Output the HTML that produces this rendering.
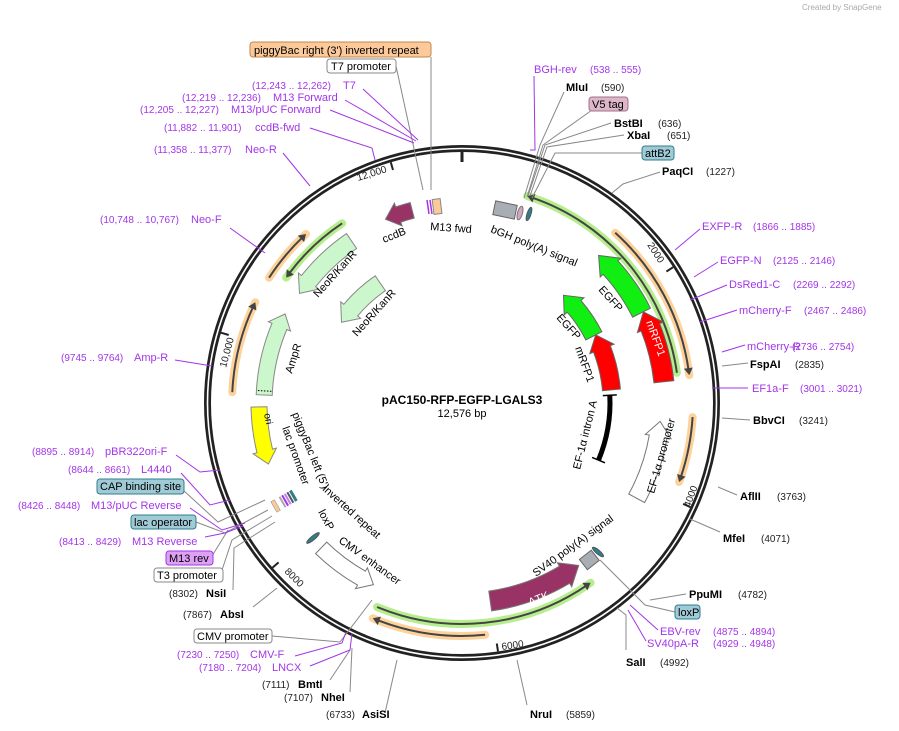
<!DOCTYPE html>
<html><head><meta charset="utf-8"><style>
html,body{margin:0;padding:0;background:#fff;}
svg{display:block;font-family:"Liberation Sans","DejaVu Sans",sans-serif;}
.l{font-size:11px;fill:#000}
.b{font-size:11px;font-weight:bold;fill:#000}
.n{font-size:10px;fill:#222}
.p{font-size:11px;fill:#a335e8}
.pn{font-size:10px;fill:#a335e8}
.g{stroke:#888;stroke-width:1;fill:none}
.pl{stroke:#a335e8;stroke-width:1;fill:none}
</style></head><body>
<svg id="s" width="899" height="731" viewBox="0 0 899 731" xmlns="http://www.w3.org/2000/svg">
<text x="802" y="10" style="font-size:8px;fill:#aaa">Created by SnapGene</text>
<g id="feat"></g>
<circle cx="462" cy="403" r="254.5" fill="none" stroke="#222" stroke-width="7"/>
<circle cx="462" cy="403" r="254.5" fill="none" stroke="#fff" stroke-width="1.6"/>
<line x1="462" y1="150" x2="462" y2="162" stroke="#222" stroke-width="3"/>
<g id="ticks"></g>
<g class="g">
<polyline points="431,57 431,190"/><polyline points="396,66 423,190"/>
<polyline points="233,590 234,548 275,522"/><polyline points="253,607 277,588"/>
<polyline points="183,490 218,522 265,500"/><polyline points="196,522 225,533 268,510"/>
<polyline points="212,556 228,530"/><polyline points="222,570 232,540 272,516"/>
<polyline points="272,636 340,642 372,600"/><polyline points="330,680 350,650"/>
<polyline points="350,692 352,648"/><polyline points="385,713 397,660"/>
<polyline points="527,705 517,660"/><polyline points="626,650 626,615 617,608"/>
<polyline points="675,612 645,605 600,560"/><polyline points="686,594 650,600"/>
<polyline points="720,532 690,519"/><polyline points="737,495 718,487"/>
<polyline points="750,420 722,418"/><polyline points="748,363 722,366"/>
<polyline points="660,172 623,184 612,193"/><polyline points="642,153 555,153 532,198"/>
<polyline points="624,135 547,147 530,196"/><polyline points="611,123 545,145 528,196"/>
<polyline points="592,110 543,145 527,197"/><polyline points="564,92 540,145 524,198"/>
</g>
<g class="pl">
<polyline points="363,89 418,140"/><polyline points="345,100 416,141"/><polyline points="330,110 414,143"/>
<polyline points="310,128 372,148 375,160"/><polyline points="283,153 310,186"/>
<polyline points="230,228 265,253"/><polyline points="175,360 212,366"/>
<polyline points="176,455 200,472 220,470"/><polyline points="181,473 210,505 230,500"/>
<polyline points="190,508 222,530 245,523"/><polyline points="205,537 225,533 243,526"/>
<polyline points="295,656 342,643 346,632"/><polyline points="310,666 350,650 352,633"/>
<polyline points="658,630 630,605"/><polyline points="646,641 628,610"/>
<polyline points="748,388 712,388"/><polyline points="745,345 722,352"/>
<polyline points="737,310 700,322"/><polyline points="727,285 690,300"/>
<polyline points="718,262 694,277"/><polyline points="700,229 675,250"/>
<polyline points="534,76 535,150 530,150"/>
</g>
<rect x="433" y="199" width="8" height="15" fill="#fbc99a" stroke="#888" transform="rotate(-7 437 206)"/>
<line x1="427" y1="200" x2="429" y2="214" stroke="#a335e8" stroke-width="1.5"/>
<line x1="430" y1="200" x2="432" y2="214" stroke="#a335e8" stroke-width="1.5"/>
<rect x="494" y="203" width="22" height="14" fill="#a9aeb5" stroke="#666" transform="rotate(12 505 210)"/>
<ellipse cx="520" cy="213" rx="2.5" ry="7" fill="#d4a5c0" stroke="#777" transform="rotate(15 520 213)"/>
<ellipse cx="529" cy="214" rx="2" ry="7" fill="#2f7e8e" stroke="#555" transform="rotate(18 529 214)"/>
<rect x="582" y="553" width="15" height="13" fill="#a9aeb5" stroke="#666" transform="rotate(-38 590 560)"/>
<ellipse cx="598" cy="552" rx="2" ry="7" fill="#2f7e8e" stroke="#555" transform="rotate(-50 598 552)"/>
<ellipse cx="313" cy="538" rx="2" ry="8" fill="#2f7e8e" stroke="#555" transform="rotate(50 313 538)"/>
<g transform="rotate(60 286 500)">
<rect x="280" y="490" width="12" height="3" fill="#2f7e8e"/><rect x="280" y="494" width="12" height="2" fill="#555"/>
<rect x="280" y="497" width="12" height="2" fill="#c080f0"/><rect x="280" y="500" width="12" height="2" fill="#a335e8"/>
<rect x="280" y="503" width="12" height="2" fill="#aaa"/><rect x="280" y="510" width="12" height="4" fill="#fbc99a" stroke="#888" stroke-width=".5"/>
</g>
<text class="l" transform="translate(384,243) rotate(-22)">ccdB</text>
<text class="l" transform="translate(430,230) rotate(4)">M13 fwd</text>
<text class="l" transform="translate(490,232) rotate(22)">bGH poly(A) signal</text>
<text class="l" transform="translate(598,290) rotate(48)">EGFP</text>
<text class="l" transform="translate(556,318) rotate(48)">EGFP</text>
<text class="l" transform="translate(575,348) rotate(70)">mRFP1</text>
<text class="l" transform="translate(646,322) rotate(70)" style="fill:#fff">mRFP1</text>
<text class="l" transform="translate(580,470) rotate(-76)">EF-1α intron A</text>
<text class="l" transform="translate(654,494) rotate(-74)">EF-1α promoter</text>
<text class="l" transform="translate(536,577) rotate(-36)">SV40 poly(A) signal</text>
<text class="l" transform="translate(530,606) rotate(-22)" style="fill:#fff">ΔTK</text>
<text class="l" transform="translate(338,542) rotate(36)">CMV enhancer</text>
<text class="l" transform="translate(318,512) rotate(62)">loxP</text>
<text class="l" transform="translate(322,490) rotate(42)">inverted repeat</text>
<text class="l" transform="translate(292,414) rotate(68)">piggyBac left (5')</text>
<text class="l" transform="translate(282,428) rotate(70)">lac promoter</text>
<text class="l" transform="translate(318,298) rotate(-48)">NeoR/KanR</text>
<text class="l" transform="translate(357,337) rotate(-48)">NeoR/KanR</text>
<text class="l" transform="translate(292,374) rotate(-72)">AmpR</text>
<text class="l" transform="translate(264,414) rotate(78)" style="font-size:10px">ori</text>
<text class="n" transform="translate(358,181) rotate(-17)">12,000</text>
<text class="n" transform="translate(647,245) rotate(57)">2000</text>
<text class="n" transform="translate(226,368) rotate(-75)">10,000</text>
<text class="n" transform="translate(284,572) rotate(45)">8000</text>
<text class="n" transform="translate(502,650) rotate(-8)">6000</text>
<text class="n" transform="translate(690,508) rotate(-70)">4000</text>
<text x="462" y="404" text-anchor="middle" style="font-size:12px;font-weight:bold">pAC150-RFP-EGFP-LGALS3</text>
<text x="462" y="417" text-anchor="middle" style="font-size:11px">12,576 bp</text>
<rect x="250" y="42" width="181" height="15" rx="3" fill="#fbc99a" stroke="#c0884f"/><text class="l" x="254" y="54">piggyBac right (3') inverted repeat</text>
<rect x="327" y="59" width="69" height="14" rx="3" fill="#fff" stroke="#888"/><text class="l" x="331" y="70">T7 promoter</text>
<rect x="97" y="479" width="87" height="15" rx="3" fill="#9fcad6" stroke="#2f7e8e"/><text class="l" x="100" y="490">CAP binding site</text>
<rect x="131" y="515" width="65" height="14" rx="3" fill="#9fcad6" stroke="#2f7e8e"/><text class="l" x="134" y="526">lac operator</text>
<rect x="166" y="551" width="47" height="14" rx="3" fill="#dda0f5" stroke="#a335e8"/><text class="l" x="169" y="562">M13 rev</text>
<rect x="154" y="568" width="69" height="14" rx="3" fill="#fff" stroke="#888"/><text class="l" x="157" y="579">T3 promoter</text>
<rect x="194" y="629" width="78" height="14" rx="3" fill="#fff" stroke="#888"/><text class="l" x="197" y="640">CMV promoter</text>
<rect x="675" y="605" width="25" height="14" rx="3" fill="#9fcad6" stroke="#2f7e8e"/><text class="l" x="678" y="616">loxP</text>
<rect x="642" y="146" width="32" height="14" rx="3" fill="#9fcad6" stroke="#2f7e8e"/><text class="l" x="645" y="157">attB2</text>
<rect x="589" y="97" width="39" height="14" rx="3" fill="#ddb6c8" stroke="#a07088"/><text class="l" x="592" y="108">V5 tag</text>
<text class="pn" x="252" y="89">(12,243 .. 12,262)</text><text class="p" x="343" y="89">T7</text>
<text class="pn" x="182" y="101">(12,219 .. 12,236)</text><text class="p" x="273" y="101">M13 Forward</text>
<text class="pn" x="140" y="113">(12,205 .. 12,227)</text><text class="p" x="231" y="113">M13/pUC Forward</text>
<text class="pn" x="164" y="131">(11,882 .. 11,901)</text><text class="p" x="255" y="131">ccdB-fwd</text>
<text class="pn" x="154" y="153">(11,358 .. 11,377)</text><text class="p" x="245" y="153">Neo-R</text>
<text class="pn" x="100" y="223">(10,748 .. 10,767)</text><text class="p" x="191" y="223">Neo-F</text>
<text class="pn" x="61" y="361">(9745 .. 9764)</text><text class="p" x="134" y="361">Amp-R</text>
<text class="pn" x="32" y="455">(8895 .. 8914)</text><text class="p" x="105" y="455">pBR322ori-F</text>
<text class="pn" x="68" y="473">(8644 .. 8661)</text><text class="p" x="141" y="473">L4440</text>
<text class="pn" x="18" y="509">(8426 .. 8448)</text><text class="p" x="91" y="509">M13/pUC Reverse</text>
<text class="pn" x="59" y="545">(8413 .. 8429)</text><text class="p" x="132" y="545">M13 Reverse</text>
<text class="n" x="169" y="597">(8302)</text><text class="b" x="206" y="597">NsiI</text>
<text class="n" x="183" y="618">(7867)</text><text class="b" x="220" y="618">AbsI</text>
<text class="pn" x="177" y="658">(7230 .. 7250)</text><text class="p" x="250" y="658">CMV-F</text>
<text class="pn" x="199" y="671">(7180 .. 7204)</text><text class="p" x="272" y="671">LNCX</text>
<text class="n" x="262" y="688">(7111)</text><text class="b" x="298" y="688">BmtI</text>
<text class="n" x="284" y="701">(7107)</text><text class="b" x="321" y="701">NheI</text>
<text class="n" x="326" y="718">(6733)</text><text class="b" x="362" y="718">AsiSI</text>
<text class="b" x="530" y="718">NruI</text><text class="n" x="566" y="718">(5859)</text>
<text class="b" x="626" y="666">SalI</text><text class="n" x="660" y="666">(4992)</text>
<text class="p" x="660" y="635">EBV-rev</text><text class="pn" x="713" y="635">(4875 .. 4894)</text>
<text class="p" x="647" y="647">SV40pA-R</text><text class="pn" x="713" y="647">(4929 .. 4948)</text>
<text class="b" x="689" y="598">PpuMI</text><text class="n" x="738" y="598">(4782)</text>
<text class="b" x="723" y="542">MfeI</text><text class="n" x="761" y="542">(4071)</text>
<text class="b" x="740" y="500">AflII</text><text class="n" x="777" y="500">(3763)</text>
<text class="b" x="753" y="424">BbvCI</text><text class="n" x="799" y="424">(3241)</text>
<text class="p" x="752" y="392">EF1a-F</text><text class="pn" x="800" y="392">(3001 .. 3021)</text>
<text class="b" x="750" y="368">FspAI</text><text class="n" x="795" y="368">(2835)</text>
<text class="p" x="747" y="350">mCherry-R</text><text class="pn" x="792" y="350">(2736 .. 2754)</text>
<text class="p" x="739" y="314">mCherry-F</text><text class="pn" x="804" y="314">(2467 .. 2486)</text>
<text class="p" x="729" y="288">DsRed1-C</text><text class="pn" x="793" y="288">(2269 .. 2292)</text>
<text class="p" x="720" y="264">EGFP-N</text><text class="pn" x="773" y="264">(2125 .. 2146)</text>
<text class="p" x="702" y="230">EXFP-R</text><text class="pn" x="753" y="230">(1866 .. 1885)</text>
<text class="b" x="662" y="175">PaqCI</text><text class="n" x="706" y="175">(1227)</text>
<text class="b" x="627" y="139">XbaI</text><text class="n" x="667" y="139">(651)</text>
<text class="b" x="614" y="127">BstBI</text><text class="n" x="658" y="127">(636)</text>
<text class="b" x="566" y="91">MluI</text><text class="n" x="601" y="91">(590)</text>
<text class="p" x="534" y="73">BGH-rev</text><text class="pn" x="590" y="73">(538 .. 555)</text>
</svg>
<script>
(function(){
var cx=462,cy=403,NS="http://www.w3.org/2000/svg";
function P(a,r){a*=Math.PI/180;return (cx+r*Math.sin(a)).toFixed(1)+","+(cy-r*Math.cos(a)).toFixed(1);}
function add(g,tag,attrs){var e=document.createElementNS(NS,tag);for(var k in attrs)e.setAttribute(k,attrs[k]);document.getElementById(g).appendChild(e);return e;}
function arc(a1,a2,r){var sw=a2>a1?1:0;return "M"+P(a1,r)+"A"+r+","+r+" 0 0 "+sw+" "+P(a2,r);}
function block(a1,a2,r,w,fill,stroke){
 var d=a2>a1?1:-1,head=(w*0.85)/r*180/Math.PI,ah=a2-d*head,ro=r+w/2,ri=r-w/2,hw=w/2+4;
 var p="M"+P(a1,ro)+"A"+ro+","+ro+" 0 0 "+(d>0?1:0)+" "+P(ah,ro)+"L"+P(ah,r+hw)+"L"+P(a2,r)+"L"+P(ah,r-hw)+"L"+P(ah,ri)+"A"+ri+","+ri+" 0 0 "+(d>0?0:1)+" "+P(a1,ri)+"Z";
 add("feat","path",{d:p,fill:fill,stroke:stroke,"stroke-width":1});
}
function larrow(a1,a2,r,hl){
 var d=a2>a1?1:-1,h=7/r*180/Math.PI;
 add("feat","path",{d:arc(a1,a2,r),stroke:hl,"stroke-width":8,fill:"none","stroke-linecap":"round"});
 add("feat","path",{d:arc(a1,a2-d*h*0.6,r),stroke:"#444","stroke-width":2,fill:"none"});
 var ah=a2-d*h;
 add("feat","path",{d:"M"+P(ah,r+4.5)+"L"+P(a2,r)+"L"+P(ah,r-4.5)+"Z",fill:"#444"});
}
larrow(82,17.5,217,"#b6ee8e");
larrow(42,83,229,"#fdd29b");
larrow(93.5,110,231,"#fdd29b");
larrow(202.6,144.4,221,"#b6ee8e");
larrow(174.3,202.5,233,"#fdd29b");
larrow(303,317.3,230,"#fdd29b");
larrow(326.3,305.5,216,"#b6ee8e");
larrow(272.7,296,230,"#fdd29b");
block(272.3,296.7,198,16,"#ccf7cc","#888");
block(325.7,304,196,18,"#ccf7cc","#888");
block(325.7,303.8,145,18,"#ccf7cc","#888");
block(268.9,252.5,203,16,"#ffff00","#888");
block(345.5,337.4,199,16,"#993366","#777");
block(63.3,42.8,201,20,"#11ee11","#666");
block(84,63.3,203,20,"#ff0000","#666");
block(63,43.3,148,18,"#11ee11","#666");
block(85,63,150,18,"#ff0000","#666");
block(118.6,95.3,199,18,"#ffffff","#777");
block(171.9,144.3,200,20,"#993366","#777");
block(224.2,206,202,16,"#ffffff","#777");
add("feat","path",{d:arc(87,112.7,148),stroke:"#000","stroke-width":5,fill:"none"});
[87,112.7].forEach(function(a){add("feat","path",{d:"M"+P(a,141)+"L"+P(a,155),stroke:"#000","stroke-width":1.5});});
add("feat","path",{d:"M"+P(273.5,191)+"L"+P(273.5,205),stroke:"#000","stroke-width":1,"stroke-dasharray":"1.5,1.5"});
[2000,4000,6000,8000,10000,12000].forEach(function(b){var a=b/12576*360;add("ticks","path",{d:"M"+P(a,251)+"L"+P(a,243),stroke:"#222","stroke-width":2});});
})();
</script>
</body></html>
